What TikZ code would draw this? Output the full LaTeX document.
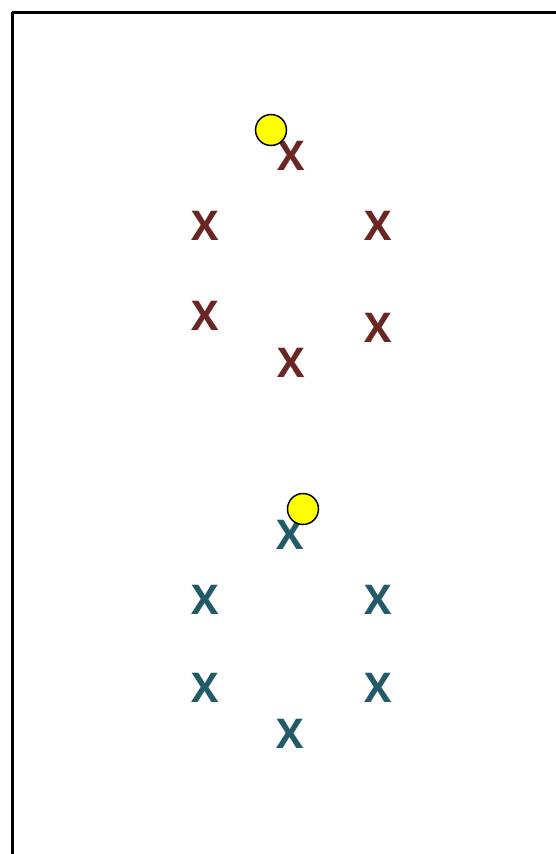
\documentclass[tikz,border=0pt]{standalone}
\usepackage{fontspec}
\setmainfont{Open Sans}
\definecolor{xred}{HTML}{6B2522}
\definecolor{xteal}{HTML}{235A68}
\definecolor{ball}{HTML}{FFFF00}
\tikzset{
  mark red/.style={text=xred,font=\fontsize{41}{41}\selectfont\bfseries,inner sep=0pt},
  mark teal/.style={text=xteal,font=\fontsize{41}{41}\selectfont\bfseries,inner sep=0pt},
  ballnode/.style={circle,draw=black,fill=ball,line width=1.5pt,minimum size=31pt,inner sep=0pt}
}
\begin{document}
\begin{tikzpicture}[x=1pt,y=-1pt]
\useasboundingbox (0,0) rectangle (556,854);
\clip (0,0) rectangle (556,854);
\draw[line width=3pt] (12,12) -- (12,900) (12,12) -- (600,12);
% red group
\node[mark red] (r1) at (291,156) {X};
\node[mark red] (r2) at (205,226) {X};
\node[mark red] (r3) at (378,226) {X};
\node[mark red] (r4) at (205,316) {X};
\node[mark red] (r5) at (378,328) {X};
\node[mark red] (r6) at (291,363) {X};
\node[ballnode] (b1) at (271,130) {};
% teal group
\node[mark teal] (t1) at (290,535) {X};
\node[mark teal] (t2) at (205,600) {X};
\node[mark teal] (t3) at (378,600) {X};
\node[mark teal] (t4) at (205,688) {X};
\node[mark teal] (t5) at (378,688) {X};
\node[mark teal] (t6) at (290,734) {X};
\node[ballnode] (b2) at (303,509) {};
\end{tikzpicture}
\end{document}
